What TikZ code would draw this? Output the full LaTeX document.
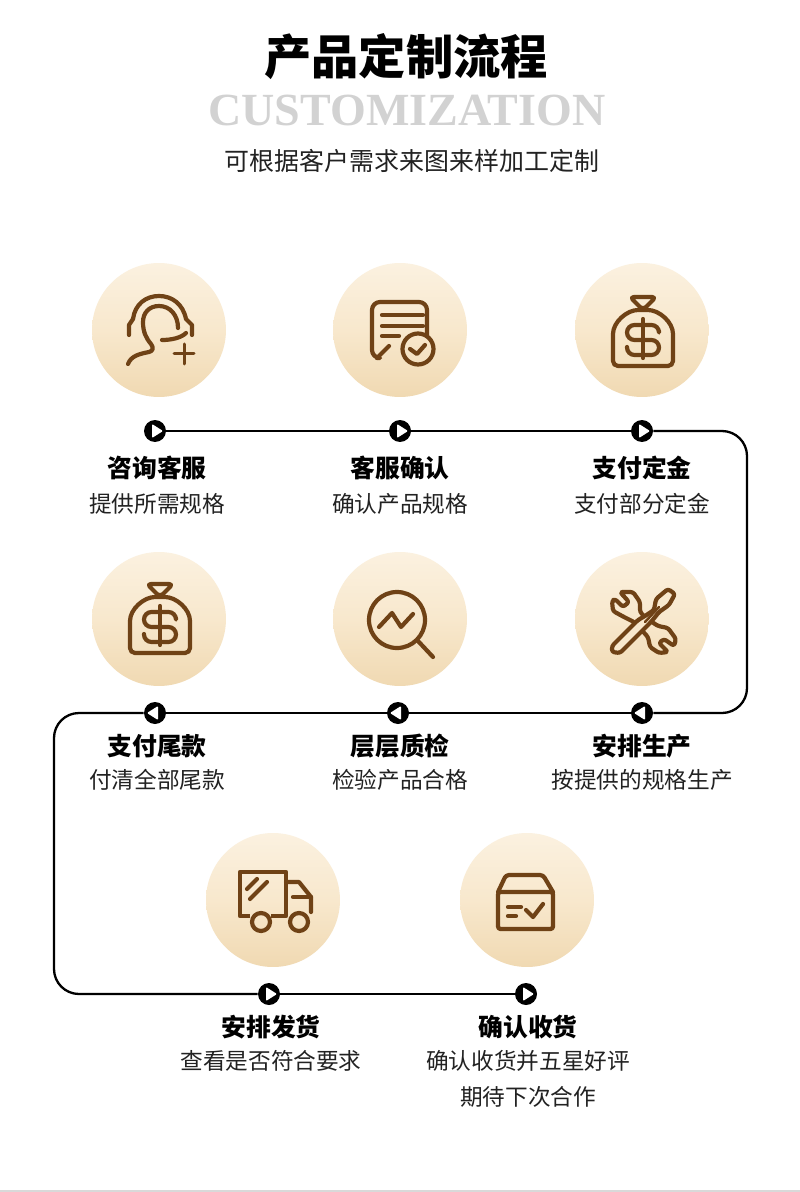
\documentclass[tikz,border=0pt]{standalone}
\usepackage{fontspec}
\setmainfont{Noto Sans CJK SC}
\newfontfamily\latinfont{Liberation Serif}
\usetikzlibrary{calc}
\definecolor{iconbrown}{HTML}{6F4216}
\definecolor{disctop}{HTML}{FBF1E0}
\definecolor{discmiddle}{HTML}{F8E8CD}
\definecolor{discbottom}{HTML}{F0D9B2}
\definecolor{discmid}{HTML}{F8E8CD}
\definecolor{subgray}{HTML}{222222}
\definecolor{titlegray}{HTML}{D2D2D2}

\tikzset{
  icon/.style={draw=iconbrown,line width=.084cm,line cap=round,line join=round},
  moneybag/.pic={
    \draw[icon,rounded corners=.08cm] (-12,-33) -- (14,-33) -- (1,-20) -- cycle;
    \draw[icon,rounded corners=.1cm] (-29,36) -- (-29,9) .. controls (-29,-8) and (-15,-20) .. (1,-20)
      .. controls (17,-20) and (31,-8) .. (31,9) -- (31,36) -- cycle;
    \draw[icon] (1,-11) -- (1,28);
    \draw[icon,rounded corners=.15cm] (17,1) -- (17,-5) -- (-15,-5) -- (-15,10) -- (17,10) -- (17,25) -- (-15,25) -- (-15,17);
  },
  headset/.pic={
    \draw[icon] (-30,5) -- (-30,-5) -- (-26,-11) .. controls (-24,-26) and (-13,-34) .. (0,-34)
      .. controls (13,-34) and (24,-26) .. (27,-11) -- (33,-5) -- (33,5);
    \draw[icon] (19,-2) .. controls (19,-15) and (11,-24) .. (0,-24)
      .. controls (-10,-24) and (-16,-17) .. (-16,-8) .. controls (-16,2) and (-13,8) .. (-8,14)
      .. controls (-5,18) and (-6,21) .. (-10,22) .. controls (-20,24) and (-28,26) .. (-31,34);
    \draw[icon] (3,10) .. controls (12,10) and (22,8) .. (27,3);
    \draw[icon,line width=.06cm] (25,14) -- (25,34);
    \draw[icon,line width=.06cm] (15,24) -- (35,24);
  },
  checkdoc/.pic={
    \draw[icon,rounded corners=.16cm] (27,6) -- (27,-28) -- (-28,-28) -- (-28,28) -- (-23,28);
    \draw[icon] (-23,28) -- (-11,16);
    \draw[icon] (-18,-15) -- (23,-15);
    \draw[icon] (-18,-4) -- (23,-4);
    \draw[icon] (-18,6) -- (-1,6);
    \draw[icon] (18,19) circle (15.5);
    \draw[icon] (10,19) -- (17,24) -- (25,15);
  },
  lens/.pic={
    \draw[icon] (-3,1) circle (28);
    \draw[icon] (18,22) -- (33,38);
    \draw[icon] (-21,8) -- (-8,-6) -- (1,8) -- (13,-5);
  },
  tools/.pic={
    \draw[icon,rounded corners=.05cm] (-22,-27) -- (-9,-27) -- (-2,-17) -- (-2,-7) -- (4,-1) -- (16,7) -- (26,9)
      -- (34,20) -- (32,27) -- (22,20) -- (17,24) -- (26,33) -- (17,34) -- (8,28) -- (6,18) -- (-8,3)
      -- (-18,-2) -- (-29,-8) -- (-30,-18) -- (-27,-20) -- (-19,-12) -- (-13,-17) -- cycle;
    \draw[icon,fill=discmid,rounded corners=.05cm] (-30,27) -- (-4,1) -- (3,-3) -- (12,-9) -- (14,-20) -- (26,-30)
      -- (33,-25) -- (27,-14) -- (17,-7) -- (9,3) -- (4,8) -- (-22,34) -- (-30,33) -- cycle;
    \draw[icon,line width=.05cm] (3,3) -- (17,-12);
  },
  truck/.pic={
    \draw[icon,line cap=butt] (-23,16) -- (-33,16) -- (-33,-28) -- (13,-28) -- (13,16) -- (-2,16);
    \draw[icon] (13,-18) -- (26,-18) -- (38,-3) -- (38,12);
    \draw[icon] (20,-3) -- (38,-3);
    \draw[icon] (-12,22) circle (9);
    \draw[icon] (26,22) circle (9);
    \draw[icon] (-26,-11) -- (-16,-21);
    \draw[icon] (-23,-1) -- (-6,-18);
  },
  parcel/.pic={
    \draw[icon,rounded corners=.05cm] (-29,-8) rectangle (26,29);
    \draw[icon,rounded corners=.06cm] (-29,-8) -- (-21,-25) -- (16,-25) -- (26,-8);
    \draw[icon] (-19,7) -- (-6,7);
    \draw[icon] (-19,16) -- (-11,16);
    \draw[icon] (-1,10) -- (6,17) -- (16,4);
  }
}

\begin{document}
\begin{tikzpicture}[
  x=.02cm,y=-.02cm,
  disc/.style={circle,inner sep=0pt,minimum size=2.68cm,top color=disctop,bottom color=discbottom,middle color=discmiddle},
  stop/.style={circle,fill=black,inner sep=0pt,minimum size=.44cm},
  stopr/.style={stop,path picture={\fill[white,rounded corners=.02cm]
    ($(path picture bounding box.center)+(-3,-7)$) -- ++(11,7) -- ++(-11,7) -- cycle;}},
  stopl/.style={stop,path picture={\fill[white,rounded corners=.02cm]
    ($(path picture bounding box.center)+(3,-7)$) -- ++(-11,7) -- ++(11,7) -- cycle;}},
  flow/.style={draw=black,line width=.046cm,rounded corners=.5cm},
  head/.style={font=\fontsize{14.1}{14}\selectfont\bfseries,text=black,inner sep=0pt},
  desc/.style={font=\fontsize{12.9}{13}\selectfont,text=subgray,inner sep=0pt}
]
\useasboundingbox (0,0) rectangle (800,1192);
\fill[white] (0,0) rectangle (800,1192);
\fill[black!15] (0,1190) rectangle (800,1192);

\node[font=\fontsize{26.9}{27}\selectfont\bfseries,inner sep=0pt] (title) at (406,57) {产品定制流程};
\node[font=\fontsize{26.2}{26}\selectfont\latinfont\bfseries,text=titlegray,inner sep=0pt] (titleen) at (407,110) {CUSTOMIZATION};
\node[font=\fontsize{14.2}{15}\selectfont,text=subgray,inner sep=0pt] (subtitle) at (412,161) {可根据客户需求来图来样加工定制};

\node[disc] (c1) at (159,330) {};
\node[disc] (c2) at (400,330) {};
\node[disc] (c3) at (642,330) {};
\node[disc] (c4) at (159,619) {};
\node[disc] (c5) at (400,619) {};
\node[disc] (c6) at (642,619) {};
\node[disc] (c7) at (273,900) {};
\node[disc] (c8) at (527,900) {};

\pic at (c1) {headset};
\pic at (c2) {checkdoc};
\pic at (c3) {moneybag};
\pic at ($(c4)+(0,-2)$) {moneybag};
\pic at (c5) {lens};
\pic at (c6) {tools};
\pic at (c7) {truck};
\pic at (c8) {parcel};

\node[stopr] (m1) at (155,431) {};
\node[stopr] (m2) at (400,431) {};
\node[stopr] (m3) at (642,431) {};
\node[stopl] (m4) at (642,713) {};
\node[stopl] (m5) at (398,713) {};
\node[stopl] (m6) at (155,713) {};
\node[stopr] (m7) at (269,994) {};
\node[stopr] (m8) at (526,994) {};

\coordinate (turnA) at (747,431);
\coordinate (turnB) at (747,713);
\coordinate (turnC) at (54,713);
\coordinate (turnD) at (54,994);

\draw[flow] (m1) -- (m2);
\draw[flow] (m2) -- (m3);
\draw[flow] (m3) -- (turnA) -- (turnB) -- (m4);
\draw[flow] (m4) -- (m5);
\draw[flow] (m5) -- (m6);
\draw[flow] (m6) -- (turnC) -- (turnD) -- (m7);
\draw[flow] (m7) -- (m8);

\node[head] (t1) at (157,468) {咨询客服};
\node[desc] (d1) at (157,504) {提供所需规格};
\node[head] (t2) at (400,468) {客服确认};
\node[desc] (d2) at (400,504) {确认产品规格};
\node[head] (t3) at (642,468) {支付定金};
\node[desc] (d3) at (642,504) {支付部分定金};
\node[head] (t4) at (157,746) {支付尾款};
\node[desc] (d4) at (157,780) {付清全部尾款};
\node[head] (t5) at (400,746) {层层质检};
\node[desc] (d5) at (400,780) {检验产品合格};
\node[head] (t6) at (642,746) {安排生产};
\node[desc] (d6) at (642,780) {按提供的规格生产};
\node[head] (t7) at (271,1027) {安排发货};
\node[desc] (d7) at (271,1061) {查看是否符合要求};
\node[head] (t8) at (528,1027) {确认收货};
\node[desc] (d8) at (528,1061) {确认收货并五星好评};
\node[desc] (d9) at (528,1097) {期待下次合作};
\end{tikzpicture}
\end{document}
